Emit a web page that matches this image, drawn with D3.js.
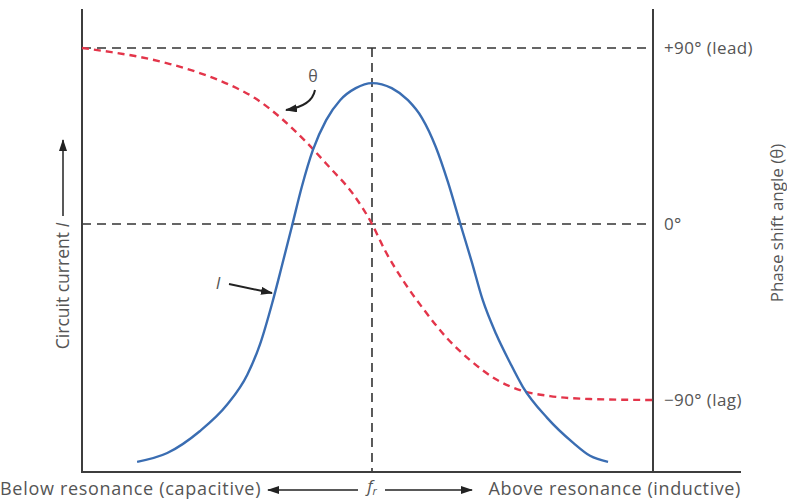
<!DOCTYPE html>
<html><head><meta charset="utf-8">
<script src="https://cdn.jsdelivr.net/npm/d3@7"></script>
<style>
html,body{margin:0;padding:0;background:#fff;}
svg{display:block;font-family:"Open Sans","Liberation Sans",sans-serif;}
</style></head>
<body><svg id="c" width="787" height="501"></svg>
<script>
// Frequency in relative units (f_r = 100)
const currentFreq = [59.5,64.7,70.3,75.0,78.5,80.7,82.8,84.5,86.2,87.9,89.8,92.1,94.5,97.2,100,103.4,106.2,108.6,111.0,113.1,115.3,117.2,119.1,121.4,123.8,126.0,130.2,134.7,137.6,140.7];
// Circuit current I (relative, 1 = top of frame)
const currentVals = [0.022,0.041,0.088,0.145,0.210,0.276,0.365,0.447,0.531,0.616,0.695,0.760,0.803,0.829,0.840,0.829,0.803,0.765,0.702,0.626,0.533,0.454,0.371,0.298,0.236,0.184,0.117,0.063,0.035,0.022];
// Phase shift angle θ (degrees)
const phaseFreq = [50,54.8,60.0,65.2,70.3,75.5,79.8,84.1,88.5,92.8,96.6,100,102.2,105.3,109.0,112.9,116.9,121.6,126.0,130.7,137.6,148.4];
const phaseVals = [90,88.0,85.4,81.8,77.2,71.1,64.4,54.7,42.4,28.6,15.9,0,-13.3,-28.6,-44.0,-58.3,-69.6,-79.8,-85.4,-88.0,-89.5,-90];
// Right-axis tick values and labels
const phaseTicks = [90,0,-90];
const phaseTickLabels = ["+90° (lead)","0°","\u221290° (lag)"];
const resonanceFreq = 100;

const svg = d3.select("#c");
const L = 82, R = 653, T = 9, B = 472, XEND = 741;
const x = d3.scaleLinear().domain([50,148.45]).range([L,R]);
const yI = d3.scaleLinear().domain([0,1]).range([B,T]);
const yP = d3.scaleLinear().domain([-90,90]).range([400,48]);

const ink = "#3d3d3d", txt = "#555";

const defs = svg.append("defs");
defs.append("marker").attr("id","ah").attr("viewBox","0 0 12 8").attr("refX",11).attr("refY",4)
  .attr("markerWidth",12).attr("markerHeight",8).attr("markerUnits","userSpaceOnUse").attr("orient","auto")
  .append("path").attr("d","M0,0 L12,4 L0,8 Z").attr("fill","#222");

// dashed reference lines
const dashG = svg.append("g").attr("stroke","#333").attr("stroke-width",1.6).attr("stroke-dasharray","9,6").attr("fill","none");
[90,0].forEach(v=>{
  dashG.append("line").attr("x1",L).attr("x2",R).attr("y1",yP(v)).attr("y2",yP(v));
});
dashG.append("line").attr("x1",x(resonanceFreq)).attr("x2",x(resonanceFreq)).attr("y1",yP(90)).attr("y2",B);

// frame
const fr = svg.append("g").attr("stroke",ink).attr("stroke-width",2).attr("fill","none");
fr.append("line").attr("x1",L).attr("x2",L).attr("y1",T).attr("y2",B+1);
fr.append("line").attr("x1",R).attr("x2",R).attr("y1",T).attr("y2",B+1);
fr.append("line").attr("x1",L-1).attr("x2",XEND).attr("y1",B).attr("y2",B);

// curves
const curData = currentFreq.map((f,i)=>[f,currentVals[i]]);
const phData = phaseFreq.map((f,i)=>[f,phaseVals[i]]);
svg.append("path").datum(phData)
  .attr("d", d3.line().x(d=>x(d[0])).y(d=>yP(d[1])).curve(d3.curveMonotoneX))
  .attr("fill","none").attr("stroke","#e3354a").attr("stroke-width",2.4).attr("stroke-dasharray","7,5");
svg.append("path").datum(curData)
  .attr("d", d3.line().x(d=>x(d[0])).y(d=>yI(d[1])).curve(d3.curveMonotoneX))
  .attr("fill","none").attr("stroke","#3a6db2").attr("stroke-width",2.4);

// right axis (phase)
const ax = svg.append("g").attr("transform",`translate(${R},0)`)
  .call(d3.axisRight(yP).tickValues(phaseTicks).tickSize(0).tickPadding(11)
    .tickFormat((d,i)=>phaseTickLabels[i]));
ax.select(".domain").remove();
ax.selectAll("text").attr("fill",txt).style("font-size","17px").style("letter-spacing","0.4px")
  .style("font-family","'Open Sans',sans-serif");

// right axis title
svg.append("text").attr("transform","translate(783,223) rotate(-90)").attr("text-anchor","middle")
  .attr("fill",txt).style("font-size","17px").text("Phase shift angle (θ)");

// left axis title + arrow
svg.append("text").attr("transform","translate(69,286) rotate(-90)").attr("text-anchor","middle")
  .attr("fill",txt).style("font-size","17.5px")
  .html("Circuit current <tspan font-style='italic'>I</tspan>");
svg.append("line").attr("x1",63).attr("x2",63).attr("y1",216).attr("y2",140)
  .attr("stroke","#222").attr("stroke-width",1.5).attr("marker-end","url(#ah)");

// bottom labels
const by = 495;
svg.append("text").attr("x",0).attr("y",by).attr("fill",txt).style("font-size","18px").style("letter-spacing","0.7px")
  .text("Below resonance (capacitive)");
svg.append("text").attr("x",741).attr("y",by).attr("text-anchor","end").attr("fill",txt).style("font-size","18px")
  .style("letter-spacing","0.6px").text("Above resonance (inductive)");
const frT = svg.append("text").attr("x",x(resonanceFreq)).attr("y",492).attr("text-anchor","middle").attr("fill",txt)
  .style("font-size","17px").style("font-style","italic");
frT.append("tspan").text("f");
frT.append("tspan").attr("dy",3).style("font-size","11px").text("r");
svg.append("line").attr("x1",x(resonanceFreq)-14).attr("x2",268).attr("y1",490).attr("y2",490)
  .attr("stroke","#222").attr("stroke-width",1.5).attr("marker-end","url(#ah)");
svg.append("line").attr("x1",x(resonanceFreq)+13).attr("x2",472).attr("y1",490).attr("y2",490)
  .attr("stroke","#222").attr("stroke-width",1.5).attr("marker-end","url(#ah)");

// annotations
svg.append("text").attr("x",313).attr("y",82).attr("text-anchor","middle").attr("fill",txt)
  .style("font-size","16px").text("θ");
svg.append("path").attr("d","M315,90 Q312,106 286,110").attr("fill","none")
  .attr("stroke","#222").attr("stroke-width",2).attr("marker-end","url(#ah)");
svg.append("text").attr("x",218).attr("y",289).attr("text-anchor","middle").attr("fill",txt)
  .style("font-size","17px").style("font-style","italic").text("I");
svg.append("line").attr("x1",229).attr("y1",284).attr("x2",272).attr("y2",293)
  .attr("stroke","#222").attr("stroke-width",2).attr("marker-end","url(#ah)");
</script></body></html>
